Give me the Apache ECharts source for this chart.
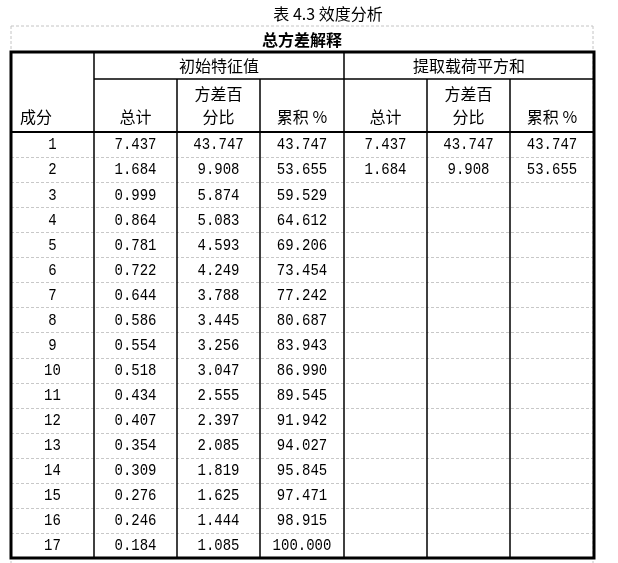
<!DOCTYPE html>
<html>
<head>
<meta charset="utf-8">
<script src="https://cdn.jsdelivr.net/npm/echarts@6/dist/echarts.min.js"></script>
<style>
html,body{margin:0;padding:0;background:#fff;}
#main{width:618px;height:563px;}
</style>
</head>
<body>
<div id="main"></div>
<script>
// 表格数据
var components = [1, 2, 3, 4, 5, 6, 7, 8, 9, 10, 11, 12, 13, 14, 15, 16, 17];
var initTotal = [7.437, 1.684, 0.999, 0.864, 0.781, 0.722, 0.644, 0.586, 0.554, 0.518, 0.434, 0.407, 0.354, 0.309, 0.276, 0.246, 0.184];
var initVar = [43.747, 9.908, 5.874, 5.083, 4.593, 4.249, 3.788, 3.445, 3.256, 3.047, 2.555, 2.397, 2.085, 1.819, 1.625, 1.444, 1.085];
var initCum = [43.747, 53.655, 59.529, 64.612, 69.206, 73.454, 77.242, 80.687, 83.943, 86.990, 89.545, 91.942, 94.027, 95.845, 97.471, 98.915, 100.000];
var extTotal = [7.437, 1.684];
var extVar = [43.747, 9.908];
var extCum = [43.747, 53.655];

var title = '表 4.3 效度分析';
var caption = '总方差解释';
var groupNames = ['初始特征值', '提取载荷平方和'];
var subHeads = [['总计'], ['方差百', '分比'], ['累积 %']];

var chart = echarts.init(document.getElementById('main'));

// 布局
var colX = [11, 94, 177, 260, 344, 427, 510, 594];
var top0 = 52, top1 = 79, top2 = 132, rowH = 25.06;
var bottom = 558;
var cjk = '"Noto Sans CJK SC", sans-serif';
var mono = '"Liberation Mono", monospace';

var els = [];

function line(x1, y1, x2, y2, w, color, dash) {
	els.push({
		type: 'line',
		shape: { x1: x1, y1: y1, x2: x2, y2: y2 },
		style: { stroke: color || '#000', lineWidth: w, lineDash: dash || null },
		z: dash ? 1 : 3
	});
}

function text(str, x, y, font, align, weight, sy) {
	els.push({
		type: 'text',
		x: x, y: y,
		scaleY: sy || 1,
		style: {
			text: str,
			font: (weight || 'normal') + ' ' + font,
			fill: '#000',
			align: align || 'center',
			verticalAlign: 'middle'
		},
		z: 5
	});
}

// 外框虚线
line(11, 26, 593, 26, 1, '#c4c4c4', [3, 2]);
line(11, 26, 11, 563, 1, '#c4c4c4', [3, 2]);
line(593, 26, 593, 563, 1, '#c4c4c4', [3, 2]);

text(title, 328, 14, '16px ' + cjk);
text(caption, 302, 40, '16px ' + cjk, 'center', 'bold');

// 表头
text(groupNames[0], (colX[1] + colX[4]) / 2, 66, '16px ' + cjk);
text(groupNames[1], (colX[4] + colX[7]) / 2, 66, '16px ' + cjk);
text('成分', 20, 117, '16px ' + cjk, 'left');
for (var g = 0; g < 2; g++) {
	for (var s = 0; s < 3; s++) {
		var cx = (colX[1 + g * 3 + s] + colX[2 + g * 3 + s]) / 2;
		var lines = subHeads[s];
		if (lines.length === 2) {
			text(lines[0], cx, 94, '16px ' + cjk);
			text(lines[1], cx, 117, '16px ' + cjk);
		} else {
			text(lines[0], cx, 117, '16px ' + cjk);
		}
	}
}

// 数据行
var cols = [initTotal, initVar, initCum, extTotal, extVar, extCum];
for (var i = 0; i < components.length; i++) {
	var yc = top2 + rowH * (i + 0.5) + 0.5;
	text(String(components[i]), (colX[0] + colX[1]) / 2, yc, '14px ' + mono, 'center', 'normal', 1.18);
	for (var c = 0; c < cols.length; c++) {
		if (cols[c][i] === undefined) continue;
		text(cols[c][i].toFixed(3), (colX[c + 1] + colX[c + 2]) / 2, yc, '14px ' + mono, 'center', 'normal', 1.18);
	}
	if (i > 0) {
		var yl = Math.round(top2 + rowH * i) + 0.5;
		line(colX[0], yl, colX[7], yl, 1, '#c8c8c8', [3, 2]);
	}
}

// 网格线
line(colX[1], top1, colX[7], top1, 1.5);
line(colX[0], top2, colX[7], top2, 2);
line(colX[1], top0, colX[1], bottom, 1.5);
line(colX[4], top0, colX[4], bottom, 1.5);
[2, 3, 5, 6].forEach(function (k) {
	line(colX[k], top1, colX[k], bottom, 1.5);
});
els.push({
	type: 'rect',
	shape: { x: colX[0], y: top0, width: colX[7] - colX[0], height: bottom - top0 },
	style: { fill: null, stroke: '#000', lineWidth: 3 },
	z: 4
});

chart.setOption({
	backgroundColor: '#fff',
	graphic: { elements: els }
});
</script>
</body>
</html>
